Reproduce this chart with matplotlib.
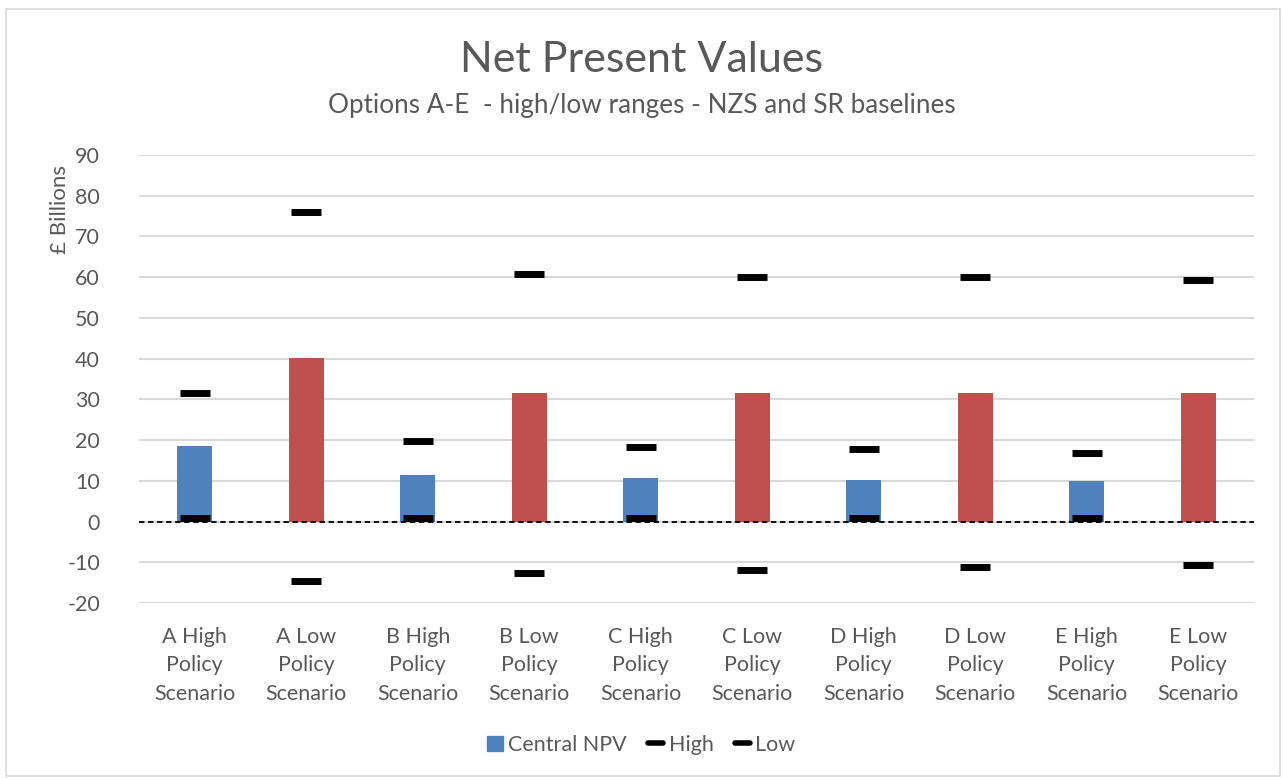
import matplotlib.pyplot as plt
import matplotlib.patches as mpatches
from matplotlib.lines import Line2D

plt.rcParams['font.family'] = ['Lato', 'DejaVu Sans']
plt.rcParams['axes.unicode_minus'] = False

categories = ["A High\nPolicy\nScenario", "A Low\nPolicy\nScenario",
              "B High\nPolicy\nScenario", "B Low\nPolicy\nScenario",
              "C High\nPolicy\nScenario", "C Low\nPolicy\nScenario",
              "D High\nPolicy\nScenario", "D Low\nPolicy\nScenario",
              "E High\nPolicy\nScenario", "E Low\nPolicy\nScenario"]
central = [18.5, 40.1, 11.5, 31.6, 10.6, 31.6, 10.3, 31.6, 10.0, 31.5]
high = [31.6, 76.1, 19.7, 60.7, 18.2, 60.1, 17.7, 60.1, 16.9, 59.4]
low = [0.8, -14.6, 0.8, -12.6, 0.8, -11.8, 0.8, -11.1, 0.8, -10.6]
bar_colors = ["#4f81bd", "#c0504d"] * 5

txt = "#595959"
fig = plt.figure(figsize=(12.83, 7.78), dpi=100)
ax = fig.add_axes([139 / 1283, 1 - 603 / 778, 1115 / 1283, 448 / 778])

x = range(len(categories))
ax.bar(x, central, width=0.31, color=bar_colors, zorder=2)
ax.axhline(0, color="black", lw=1.3, ls=(0, (3, 2)), zorder=3)
ax.plot(x, high, ls="none", marker="_", ms=21, mew=5, color="black", zorder=4)
ax.plot(x, low, ls="none", marker="_", ms=21, mew=5, color="black", zorder=4)

ax.set_xlim(-0.5, len(categories) - 0.5)
ax.set_ylim(-20, 90)
ax.set_yticks(range(-20, 91, 10))
ax.set_xticks(list(x))
ax.set_xticklabels(categories, fontsize=15.5, color=txt, linespacing=1.55)
ax.tick_params(axis="y", labelsize=15.5, colors=txt, length=0, pad=28)
ax.tick_params(axis="x", length=0, pad=17)
ax.grid(axis="y", color="#d9d9d9", lw=1.5, zorder=0)
for s in ax.spines.values():
    s.set_visible(False)

fig.text(0.5, 1 - 60 / 778, "Net Present Values", ha="center", va="center",
         fontsize=31, color=txt)
fig.text(0.5, 1 - 105 / 778, "Options A-E  - high/low ranges - NZS and SR baselines",
         ha="center", va="center", fontsize=18.8, color=txt)
fig.text(60 / 1283, 1 - 210 / 778, "£ Billions", rotation=90, ha="center",
         va="center", fontsize=16, color=txt)

handles = [mpatches.Patch(color="#4f81bd"),
           Line2D([], [], color="black", lw=4, solid_capstyle="round"),
           Line2D([], [], color="black", lw=4, solid_capstyle="round")]
fig.legend(handles, ["Central NPV", "High", "Low"], loc="center",
           bbox_to_anchor=(0.5, 1 - 745 / 778), ncol=3, frameon=False,
           fontsize=15.5, labelcolor=txt, handlelength=0.7, handleheight=0.7,
           handletextpad=0.25, columnspacing=1.0)

fig.patches.append(mpatches.Rectangle((6 / 1283, 0.002), 1 - 9 / 1283, 1 - 11 / 778,
                                      transform=fig.transFigure, fill=False,
                                      edgecolor="#d9d9d9", lw=1.2))

plt.savefig("out.png")
